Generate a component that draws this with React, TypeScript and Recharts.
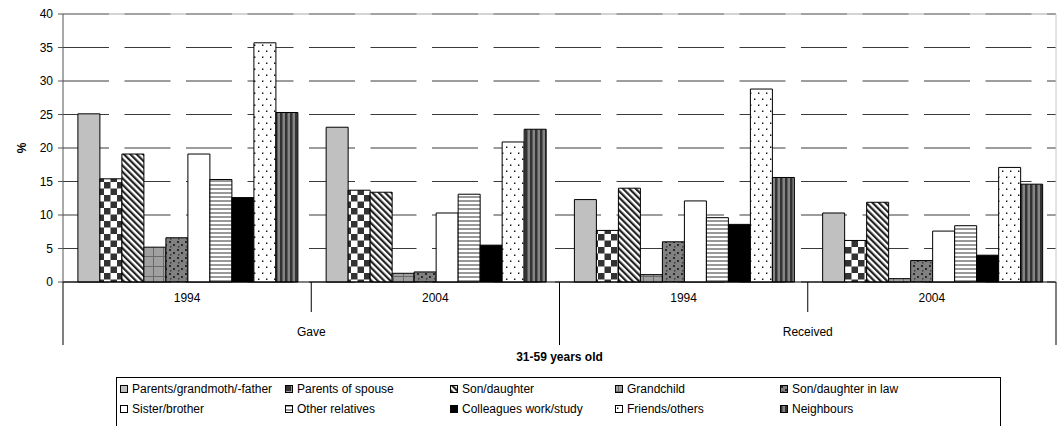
import React from 'react';
import { BarChart, Bar, XAxis, YAxis, CartesianGrid, ReferenceLine } from 'recharts';

// ── data ─────────────────────────────────────────────────────────
const years = ['1994', '2004', '1994', '2004'];
const groups = ['Gave', 'Gave', 'Received', 'Received'];
const yTicks = [0, 5, 10, 15, 20, 25, 30, 35, 40];

const parents     = [25.1, 23.1, 12.3, 10.3];
const spouse      = [15.4, 13.7, 7.7, 6.2];
const sonDaughter = [19.1, 13.4, 14.0, 11.9];
const grandchild  = [5.2, 1.3, 1.1, 0.5];
const inLaw       = [6.6, 1.5, 6.0, 3.2];
const sister      = [19.1, 10.3, 12.1, 7.6];
const otherRel    = [15.3, 13.1, 9.6, 8.4];
const colleagues  = [12.6, 5.5, 8.6, 4.0];
const friends     = [35.7, 20.9, 28.8, 17.1];
const neighbours  = [25.3, 22.8, 15.6, 14.6];

const SERIES = [
  { key: 'parents',     name: 'Parents/grandmoth/-father', values: parents,     fill: 'url(#p-parents)' },
  { key: 'spouse',      name: 'Parents of spouse',         values: spouse,      fill: 'url(#p-spouse)' },
  { key: 'sonDaughter', name: 'Son/daughter',              values: sonDaughter, fill: 'url(#p-son)' },
  { key: 'grandchild',  name: 'Grandchild',                values: grandchild,  fill: 'url(#p-grand)' },
  { key: 'inLaw',       name: 'Son/daughter in law',       values: inLaw,       fill: 'url(#p-inlaw)' },
  { key: 'sister',      name: 'Sister/brother',            values: sister,      fill: '#ffffff' },
  { key: 'otherRel',    name: 'Other relatives',           values: otherRel,    fill: 'url(#p-other)' },
  { key: 'colleagues',  name: 'Colleagues work/study',     values: colleagues,  fill: '#000000' },
  { key: 'friends',     name: 'Friends/others',            values: friends,     fill: 'url(#p-friends)' },
  { key: 'neighbours',  name: 'Neighbours',                values: neighbours,  fill: 'url(#p-neigh)' },
];

const data = years.map((year, i) => {
  const row: Record<string, string | number> = { year, group: groups[i] };
  SERIES.forEach((s) => { row[s.key] = s.values[i]; });
  return row;
});

// ── layout ───────────────────────────────────────────────────────
const W = 1057;
const H = 426;
const Y_AXIS_W = 63;
const PLOT_W = W - Y_AXIS_W - 1;
const BAND = PLOT_W / years.length;
const FONT = '"Liberation Sans", Arial, sans-serif';

function Patterns() {
  return (
    <defs>
      <pattern id="p-parents" width="4" height="4" patternUnits="userSpaceOnUse">
        <rect width="4" height="4" fill="#c0c0c0" />
      </pattern>
      <pattern id="p-spouse" width="13" height="13" patternUnits="userSpaceOnUse">
        <rect width="13" height="13" fill="#ffffff" />
        <rect x="0" y="0" width="6.5" height="6.5" fill="#333333" />
        <rect x="6.5" y="6.5" width="6.5" height="6.5" fill="#333333" />
      </pattern>
      <pattern id="p-son" width="4.5" height="4.5" patternUnits="userSpaceOnUse" patternTransform="rotate(-45)">
        <rect width="4.5" height="4.5" fill="#ffffff" />
        <rect x="0" y="0" width="2.2" height="4.5" fill="#222222" />
      </pattern>
      <pattern id="p-grand" width="10" height="10" patternUnits="userSpaceOnUse">
        <rect width="10" height="10" fill="#a0a0a0" />
        <rect x="3" y="0" width="1" height="10" fill="#6a6a6a" />
        <rect x="0" y="6" width="10" height="1" fill="#6a6a6a" />
      </pattern>
      <pattern id="p-inlaw" width="8" height="8" patternUnits="userSpaceOnUse">
        <rect width="8" height="8" fill="#808080" />
        <rect x="1" y="1" width="2" height="2" fill="#2a2a2a" />
        <rect x="5" y="4" width="2" height="2" fill="#2a2a2a" />
        <rect x="2" y="6" width="1.5" height="1.5" fill="#404040" />
      </pattern>
      <pattern id="p-other" width="4" height="4" patternUnits="userSpaceOnUse">
        <rect width="4" height="4" fill="#ffffff" />
        <rect x="0" y="0" width="4" height="2" fill="#999999" />
      </pattern>
      <pattern id="p-friends" width="8" height="12" patternUnits="userSpaceOnUse">
        <rect width="8" height="12" fill="#ffffff" />
        <rect x="2" y="2.5" width="1.4" height="1.4" fill="#000000" />
        <rect x="6" y="8.5" width="1.4" height="1.4" fill="#000000" />
      </pattern>
      <pattern id="p-neigh" width="5" height="5" patternUnits="userSpaceOnUse">
        <rect width="5" height="5" fill="#858585" />
        <rect x="0" y="0" width="2.5" height="5" fill="#333333" />
      </pattern>
    </defs>
  );
}

// two-level category axis: year row, then Gave / Received
function TwoLevelTick(props: any) {
  const { x, y, index, payload } = props;
  const half = BAND / 2;
  const first = index % 2 === 0;
  return (
    <g>
      <line x1={x - half} x2={x - half} y1={y} y2={y + (first ? 63 : 30)} stroke="#000" />
      {index === years.length - 1 && (
        <line x1={x + half} x2={x + half} y1={y} y2={y + 63} stroke="#000" />
      )}
      <text x={x} y={y + 20} textAnchor="middle" fontSize={12} fill="#000">
        {payload.value}
      </text>
      {first && (
        <text x={x + half} y={y + 54} textAnchor="middle" fontSize={12} fill="#000">
          {groups[index]}
        </text>
      )}
    </g>
  );
}

function PercentLabel(props: any) {
  const vb = props.viewBox || { x: 0, y: 14, height: 268 };
  const cx = vb.x + 22;
  const cy = vb.y + vb.height / 2;
  return (
    <text x={cx} y={cy} transform={`rotate(-90 ${cx} ${cy})`} textAnchor="middle" dominantBaseline="central" fontSize={12} fontWeight="bold" fill="#000">
      %
    </text>
  );
}

function LegendBox() {
  return (
    <div
      style={{
        position: 'absolute', left: 116, top: 377, width: 885, height: 60,
        border: '1px solid #000', boxSizing: 'border-box', paddingTop: 1, paddingLeft: 3,
        display: 'grid', gridTemplateColumns: 'repeat(5, 165px)', gridAutoRows: '20px',
        fontSize: 12, fontFamily: FONT, color: '#000',
      }}
    >
      {SERIES.map((s) => (
        <div key={s.key} style={{ display: 'flex', alignItems: 'center', whiteSpace: 'nowrap' }}>
          <svg width={8} height={8} style={{ marginRight: 4, flex: 'none' }}>
            <rect x={0.5} y={0.5} width={7} height={7} fill={s.fill} stroke="#000" strokeWidth={1} />
          </svg>
          {s.name}
        </div>
      ))}
    </div>
  );
}

export default function App() {
  return (
    <div style={{ position: 'absolute', left: 0, top: 0, width: W, height: H, overflow: 'hidden', background: '#fff', fontFamily: FONT }}>
      <BarChart
        width={W}
        height={H}
        data={data}
        margin={{ top: 14, right: 0, left: 0, bottom: 64 }}
        barCategoryGap="6%"
        barGap={0}
      >
        <Patterns />
        <ReferenceLine y={40} stroke="#a8a8a8" />
        <CartesianGrid vertical={false} stroke="#3a3a3a" strokeDasharray="46 15.5" />
        <XAxis
          dataKey="year"
          height={80}
          tickLine={false}
          tickSize={0}
          tickMargin={0}
          axisLine={{ stroke: '#000' }}
          tick={<TwoLevelTick />}
          interval={0}
          label={{ value: '31-59 years old', position: 'insideBottom', offset: 1, fontSize: 12, fontWeight: 'bold', fill: '#000' }}
        />
        <YAxis
          width={Y_AXIS_W}
          domain={[0, 40]}
          ticks={yTicks}
          interval={0}
          tickSize={5}
          tickMargin={5}
          tick={{ fontSize: 12, fill: '#000' }}
          axisLine={{ stroke: '#555' }}
          tickLine={{ stroke: '#555' }}
          label={<PercentLabel />}
        />
        <YAxis yAxisId="right" orientation="right" width={1} domain={[0, 40]} tick={false} tickLine={false} axisLine={{ stroke: '#c8c8c8' }} />
        {SERIES.map((s) => (
          <Bar key={s.key} dataKey={s.key} name={s.name} fill={s.fill} stroke="#000" strokeWidth={1} isAnimationActive={false} />
        ))}
      </BarChart>
      <LegendBox />
    </div>
  );
}
